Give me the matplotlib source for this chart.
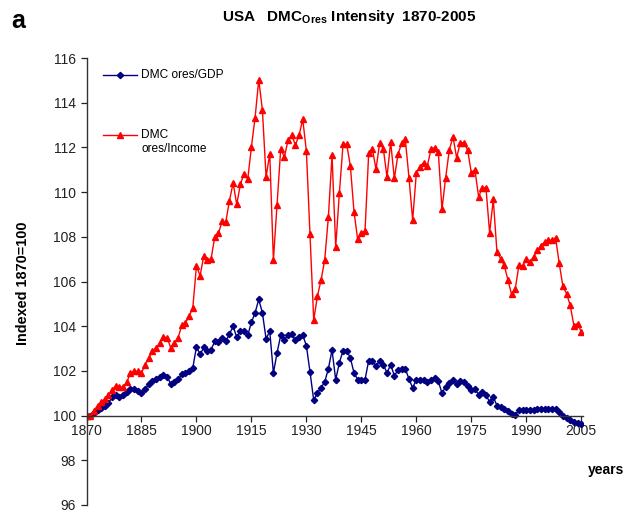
import numpy as np
import matplotlib
matplotlib.use("Agg")
import matplotlib.pyplot as plt
from matplotlib.lines import Line2D

plt.rcParams['font.family'] = ['Liberation Sans', 'DejaVu Sans']
plt.rcParams['mathtext.fontset'] = 'custom'
plt.rcParams['mathtext.rm'] = 'Liberation Sans'
plt.rcParams['mathtext.bf'] = 'Liberation Sans:bold'

years = list(range(1870, 2006))

# DMC ores / Income, indexed 1870=100
ores_income = [
    100.0, 100.0, 100.2, 100.45, 100.6, 100.75, 100.9, 101.16, 101.34, 101.28,      # 1870s
    101.28, 101.5, 101.91, 101.98, 101.98, 101.91, 102.28, 102.58, 102.88, 103.03,  # 1880s
    103.25, 103.52, 103.48, 103.03, 103.25, 103.48, 104.05, 104.15, 104.45, 104.82,  # 1890s
    106.69, 106.26, 107.15, 106.95, 107.02, 108.0, 108.15, 108.7, 108.65, 109.62,   # 1900s
    110.4, 109.45, 110.36, 110.82, 110.57, 112.03, 113.33, 115.03, 113.67, 110.67,  # 1910s
    111.72, 106.96, 109.42, 111.94, 111.57, 112.33, 112.54, 112.11, 112.54, 113.26, # 1920s
    111.84, 108.11, 104.27, 105.34, 106.06, 106.96, 108.88, 111.64, 107.55, 109.94, # 1930s
    112.14, 112.14, 111.17, 109.11, 107.88, 108.18, 108.25, 111.73, 111.94, 111.02, # 1940s
    112.21, 111.94, 110.67, 112.24, 110.61, 111.69, 112.18, 112.36, 110.64, 108.75, # 1950s
    110.84, 111.14, 111.32, 111.17, 111.91, 111.99, 111.79, 109.23, 110.64, 111.88, # 1960s
    112.48, 111.54, 112.21, 112.21, 111.88, 110.87, 110.99, 109.79, 110.2, 110.2,   # 1970s
    108.18, 109.67, 107.33, 107.02, 106.72, 106.06, 105.42, 105.67, 106.72, 106.69, # 1980s
    107.02, 106.87, 107.11, 107.39, 107.61, 107.76, 107.85, 107.85, 107.96, 106.81, # 1990s
    105.79, 105.46, 104.93, 104.03, 104.12, 103.75,                                 # 2000-2005
]

# DMC ores / GDP, indexed 1870=100
ores_gdp = [
    100.0, 99.97, 100.1, 100.25, 100.35, 100.45, 100.55, 100.85, 100.9, 100.85,
    100.9, 101.05, 101.2, 101.2, 101.1, 101.0, 101.2, 101.4, 101.55, 101.65,
    101.72, 101.8, 101.72, 101.42, 101.5, 101.62, 101.84, 101.9, 101.98, 102.13,
    103.08, 102.74, 103.05, 102.88, 102.95, 103.33, 103.28, 103.48, 103.33, 103.64,
    104.0, 103.5, 103.8, 103.8, 103.6, 104.17, 104.6, 105.2, 104.6, 103.43,
    103.78, 101.91, 102.81, 103.6, 103.4, 103.6, 103.63, 103.37, 103.52, 103.6,
    103.13, 101.94, 100.69, 101.01, 101.24, 101.51, 102.1, 102.93, 101.61, 102.36,
    102.91, 102.91, 102.58, 101.91, 101.61, 101.61, 101.61, 102.46, 102.46, 102.21,
    102.46, 102.28, 101.91, 102.28, 101.79, 102.03, 102.09, 102.09, 101.64, 101.24,
    101.61, 101.61, 101.61, 101.49, 101.61, 101.69, 101.54, 101.01, 101.28, 101.46,
    101.61, 101.43, 101.54, 101.49, 101.34, 101.13, 101.19, 100.94, 101.04, 100.94,
    100.6, 100.84, 100.45, 100.39, 100.3, 100.19, 100.07, 100.04, 100.24, 100.24,
    100.24, 100.24, 100.27, 100.3, 100.3, 100.3, 100.3, 100.3, 100.3, 100.15,
    99.97, 99.9, 99.82, 99.7, 99.67, 99.63,
]

x_ticks = list(range(1870, 2006, 15))
y_ticks = list(range(96, 117, 2))

navy = '#000080'
red = '#ff0000'

fig = plt.figure(figsize=(6.38, 5.13), dpi=100)
ax = fig.add_axes([0.1356, 0.0156, 0.7777, 0.8713])

ax.plot(years, ores_gdp, color=navy, lw=1.0, marker='D', ms=3.2, mec=navy, mfc=navy)
ax.plot(years, ores_income, color=red, lw=1.0, marker='^', ms=4.5, mec=red, mfc=red)

ax.set_xlim(1870, 2005.4)
ax.set_ylim(96, 116)
ax.set_xticks(x_ticks)
ax.set_yticks(y_ticks)
ax.tick_params(axis='both', direction='out', length=4, width=0.9, labelsize=10, colors='#222222')
ax.tick_params(axis='x', pad=2)

# x axis runs through the 100 baseline
ax.spines['bottom'].set_position(('data', 100))
ax.spines['top'].set_visible(False)
ax.spines['right'].set_visible(False)
for s in ['bottom', 'left']:
    ax.spines[s].set_linewidth(1.0)
    ax.spines[s].set_color('#333333')

# legend, drawn in axes fractions
ax.add_line(Line2D([0.033, 0.102], [0.962, 0.962], transform=ax.transAxes, color=navy, lw=1.0))
ax.add_line(Line2D([0.0675], [0.962], transform=ax.transAxes, color=navy, marker='D', ms=3.2))
ax.text(0.11, 0.962, 'DMC ores/GDP', transform=ax.transAxes, fontsize=8.6, va='center')
ax.add_line(Line2D([0.033, 0.102], [0.828, 0.828], transform=ax.transAxes, color=red, lw=1.0))
ax.add_line(Line2D([0.0675], [0.828], transform=ax.transAxes, color=red, marker='^', ms=4.5))
ax.text(0.11, 0.828, 'DMC', transform=ax.transAxes, fontsize=8.6, va='center')
ax.text(0.11, 0.796, 'ores/Income', transform=ax.transAxes, fontsize=8.6, va='center')

fig.text(0.547, 0.967, r'USA   DMC$_{\mathbf{Ores}}$ Intensity  1870-2005',
         ha='center', va='center', fontsize=11, fontweight='bold')
fig.text(0.028, 0.96, 'a', ha='center', va='center', fontsize=18, fontweight='bold')
fig.text(0.036, 0.448, 'Indexed 1870=100', rotation=90, ha='center', va='center',
         fontsize=10.4, fontweight='bold')
fig.text(0.95, 0.084, 'years', ha='center', va='center', fontsize=10, fontweight='bold')

fig.savefig('out.png', dpi=100)
